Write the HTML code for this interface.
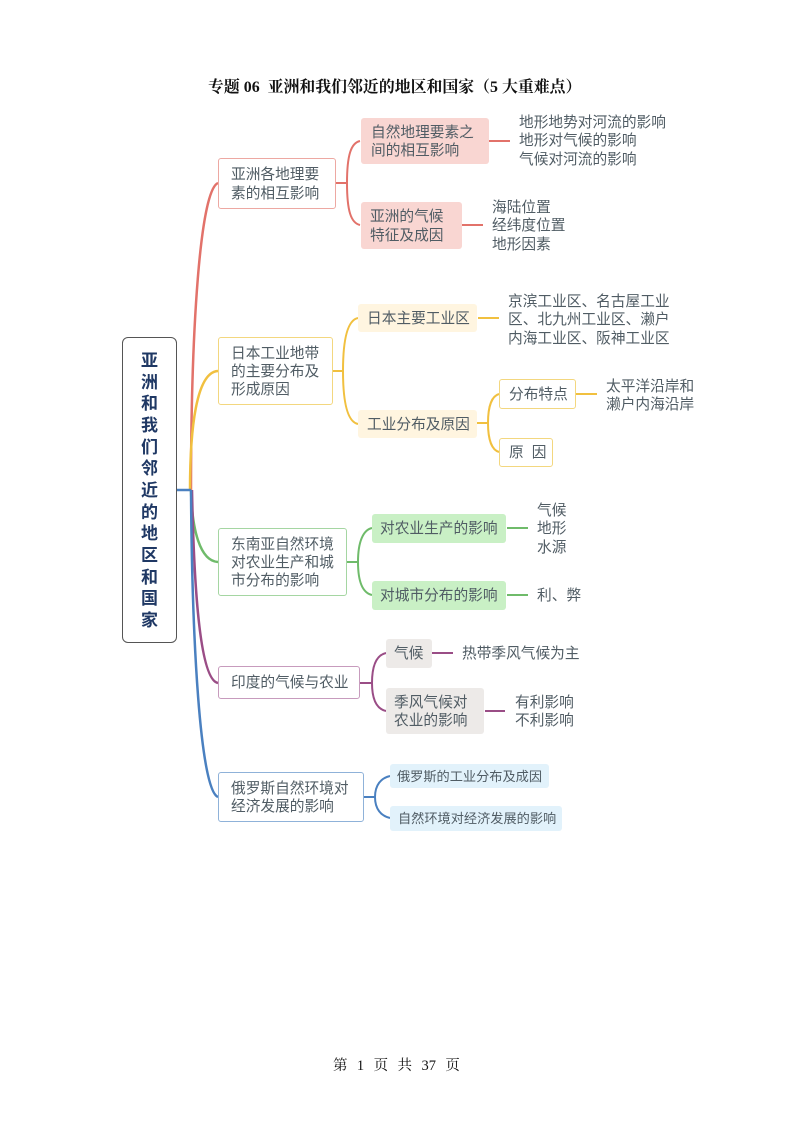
<!DOCTYPE html>
<html lang="zh">
<head>
<meta charset="utf-8">
<style>
html,body{margin:0;padding:0;background:#fff}
#p{position:relative;width:793px;height:1122px;overflow:hidden;background:#fff;font-family:"Liberation Sans","Noto Sans CJK SC",sans-serif;color:#505c64;font-size:14.7px;line-height:18.3px;filter:blur(.35px)}
#p svg{position:absolute;left:0;top:0}
.b,.l{position:absolute;white-space:nowrap;box-sizing:border-box}
.b{display:flex;align-items:center;border-radius:3px;padding-top:2px}
.o{background:#fff;border:1px solid}
.s{font-family:"Liberation Serif","Noto Serif CJK SC",serif;color:#111;position:absolute;white-space:nowrap}
</style>
</head>
<body>
<div id="p">
<div class="s" style="left:208px;top:78px;font-size:15.9px;line-height:20px;font-weight:700">专题 06&nbsp; 亚洲和我们邻近的地区和国家（5 大重难点）</div>

<svg width="793" height="1122" fill="none" stroke-width="2">
<g stroke="#e2726a"><path stroke-width="2.5" d="M191 490C191 330 200 190 218 183"/><path d="M336 183H347M360 141C351 143 347 155 347 183C347 211 351 223 360 225M489 141H510M462 225H483"/></g>
<g stroke="#f1c03f"><path stroke-width="2.5" d="M190 490C190 430 196 372 218 371"/><path d="M332 371H343M358 318C348 320 343 338 343 371C343 404 348 422 358 424M478 318H499M477 423H488M499 394C492 396 488 406 488 423C488 440 492 450 499 452M576 394H597"/></g>
<g stroke="#6fbb6a"><path stroke-width="2.5" d="M191 490C192 530 200 561 218 562"/><path d="M347 562H358M372 528C363 530 358 542 358 562C358 582 363 593 372 595M507 528H528M507 595H528"/></g>
<g stroke="#9a4d86"><path stroke-width="2.5" d="M192 490C194 590 200 680 218 683"/><path d="M360 683H372M386 653C377 655 372 665 372 683C372 700 377 709 386 711M432 653H453M485 711H505"/></g>
<g stroke="#4a80c0"><path stroke-width="2.5" d="M177 490H191M191 490C192 640 200 790 218 797"/><path d="M364 797H375M390 776C381 778 375 785 375 797C375 809 381 816 390 818"/></g>
</svg>

<div style="position:absolute;left:122px;top:337px;width:55px;height:306px;box-sizing:border-box;border:1.3px solid #555;border-radius:6px;background:#fff;text-align:center;color:#1f3864;font-weight:700;font-size:17px;line-height:21.67px;padding-top:12px">亚<br>洲<br>和<br>我<br>们<br>邻<br>近<br>的<br>地<br>区<br>和<br>国<br>家</div>

<div class="b o" style="left:218px;top:158px;width:118px;height:51px;padding-left:12px;border-color:#eda8a2">亚洲各地理要<br>素的相互影响</div>
<div class="b o" style="left:218px;top:337px;width:115px;height:68px;padding-left:12px;border-color:#f3d77f">日本工业地带<br>的主要分布及<br>形成原因</div>
<div class="b o" style="left:218px;top:528px;width:129px;height:68px;padding-left:12px;border-color:#a5d6a2">东南亚自然环境<br>对农业生产和城<br>市分布的影响</div>
<div class="b o" style="left:218px;top:666px;width:142px;height:33px;padding-left:12px;border-color:#c79bbd">印度的气候与农业</div>
<div class="b o" style="left:218px;top:772px;width:146px;height:50px;padding-left:12px;border-color:#8fb2d9">俄罗斯自然环境对<br>经济发展的影响</div>

<div class="b" style="left:361px;top:118px;width:128px;height:46px;padding-left:10px;background:#f9d6d2">自然地理要素之<br>间的相互影响</div>
<div class="b" style="left:361px;top:202px;width:101px;height:47px;padding-left:9px;background:#f9d6d2">亚洲的气候<br>特征及成因</div>
<div class="b" style="left:358px;top:304px;width:119px;height:28px;padding-left:9px;background:#fff5e0">日本主要工业区</div>
<div class="b" style="left:358px;top:410px;width:119px;height:28px;padding-left:9px;background:#fff5e0">工业分布及原因</div>
<div class="b o" style="left:499px;top:379px;width:77px;height:30px;padding-left:9px;border-color:#f3d77f">分布特点</div>
<div class="b o" style="left:499px;top:438px;width:54px;height:29px;padding-left:9px;border-color:#f3d77f;word-spacing:4px">原 因</div>
<div class="b" style="left:372px;top:514px;width:134px;height:29px;padding-left:8px;background:#c9f0c5">对农业生产的影响</div>
<div class="b" style="left:372px;top:581px;width:134px;height:29px;padding-left:8px;background:#c9f0c5">对城市分布的影响</div>
<div class="b" style="left:386px;top:639px;width:46px;height:29px;padding-left:8px;background:#edeae8">气候</div>
<div class="b" style="left:386px;top:688px;width:98px;height:46px;padding-left:8px;background:#edeae8">季风气候对<br>农业的影响</div>
<div class="b" style="left:390px;top:764px;width:159px;height:24px;padding-left:7px;background:#e2f2fb;font-size:13.2px">俄罗斯的工业分布及成因</div>
<div class="b" style="left:390px;top:806px;width:172px;height:25px;padding-left:8px;background:#e2f2fb;font-size:13.2px">自然环境对经济发展的影响</div>

<div class="l" style="left:519px;top:114px">地形地势对河流的影响<br>地形对气候的影响<br>气候对河流的影响</div>
<div class="l" style="left:492px;top:199px">海陆位置<br>经纬度位置<br>地形因素</div>
<div class="l" style="left:508px;top:293px">京滨工业区、名古屋工业<br>区、北九州工业区、濑户<br>内海工业区、阪神工业区</div>
<div class="l" style="left:606px;top:378px">太平洋沿岸和<br>濑户内海沿岸</div>
<div class="l" style="left:537px;top:502px">气候<br>地形<br>水源</div>
<div class="l" style="left:537px;top:587px">利、弊</div>
<div class="l" style="left:462px;top:645px">热带季风气候为主</div>
<div class="l" style="left:515px;top:694px">有利影响<br>不利影响</div>

<div class="s" style="left:333px;top:1057px;font-size:14.5px;line-height:18px;word-spacing:5.8px">第 1 页 共 37 页</div>
</div>
</body>
</html>
